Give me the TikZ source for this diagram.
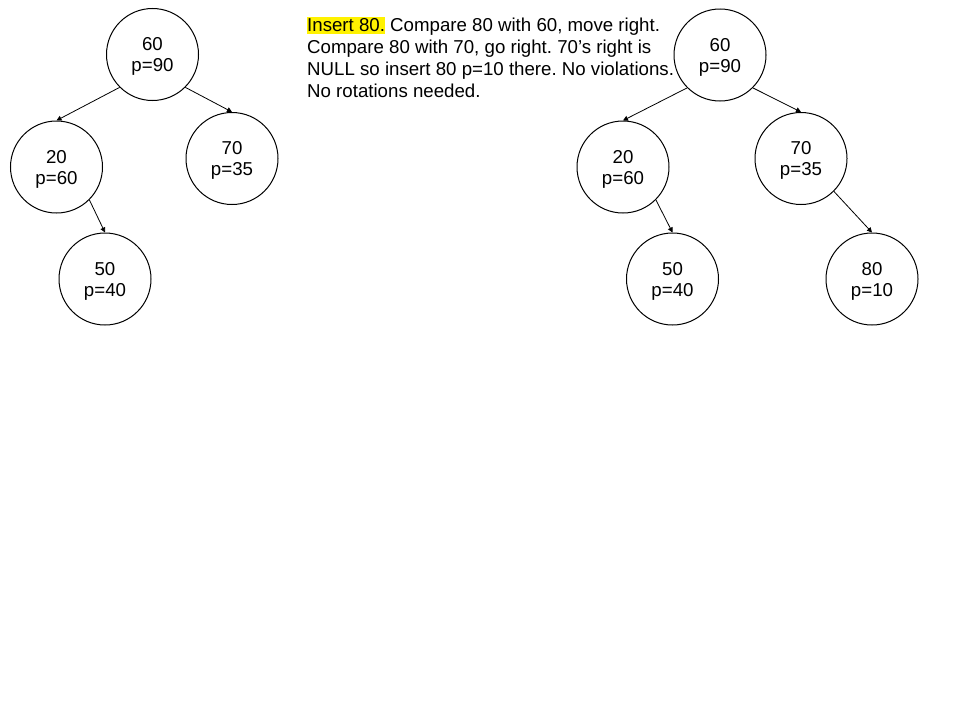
\documentclass[tikz,border=0pt]{standalone}
\usepackage{fontspec}
\setmainfont{Liberation Sans}
\usetikzlibrary{arrows.meta}
\frenchspacing
% key / priority pair inside a treap node; the rule lifts the first line
\newcommand\kp[2]{\rule{0pt}{17.5pt}#1\\#2}
\begin{document}
\begin{tikzpicture}[x=1pt,y=-1pt,
  treapnode/.style={circle,draw,line width=1pt,minimum size=92pt,inner sep=0pt,
    align=center,font=\fontsize{18.67}{20.7}\selectfont},
  link/.style={draw,line width=0.8pt,-{Triangle[length=5pt,width=5pt]}},
  note/.style={anchor=base west,inner sep=0pt,font=\fontsize{18.67}{22}\selectfont}]
\fill[white] (0,0) rectangle (960,720);
\useasboundingbox (0,0) rectangle (960,720);

% treap before the insertion
\node[treapnode] (a60) at (152.5,54.5) {\kp{60}{p=90}};
\node[treapnode] (a20) at (56.5,167) {\kp{20}{p=60}};
\node[treapnode] (a70) at (232,158.5) {\kp{70}{p=35}};
\node[treapnode] (a50) at (105,279) {\kp{50}{p=40}};
\draw[link] (a60.south west) -- (a20.north);
\draw[link] (a60.south east) -- (a70.north);
\draw[link] (a20.south east) -- (a50.north);

% treap after inserting 80
\node[treapnode] (b60) at (720,55) {\kp{60}{p=90}};
\node[treapnode] (b20) at (623,167) {\kp{20}{p=60}};
\node[treapnode] (b70) at (801,158.5) {\kp{70}{p=35}};
\node[treapnode] (b50) at (672.5,279) {\kp{50}{p=40}};
\node[treapnode] (b80) at (872,279) {\kp{80}{p=10}};
\draw[link] (b60.south west) -- (b20.north);
\draw[link] (b60.south east) -- (b70.north);
\draw[link] (b20.south east) -- (b50.north);
\draw[link] (b70.south east) -- (b80.north);

% explanation of the step
\node[note] (l1) at (307,31) {{\setlength{\fboxsep}{0pt}\colorbox{yellow}{\rule[-3pt]{0pt}{17.3pt}Insert 80.}} Compare 80 with 60, move right.};
\node[note] (l2) at (307,53.2) {Compare 80 with 70, go right. 70’s right is};
\node[note] (l3) at (307,75.3) {NULL so insert 80 p=10 there. No violations.};
\node[note] (l4) at (307,97.4) {No rotations needed.};
\end{tikzpicture}
\end{document}
